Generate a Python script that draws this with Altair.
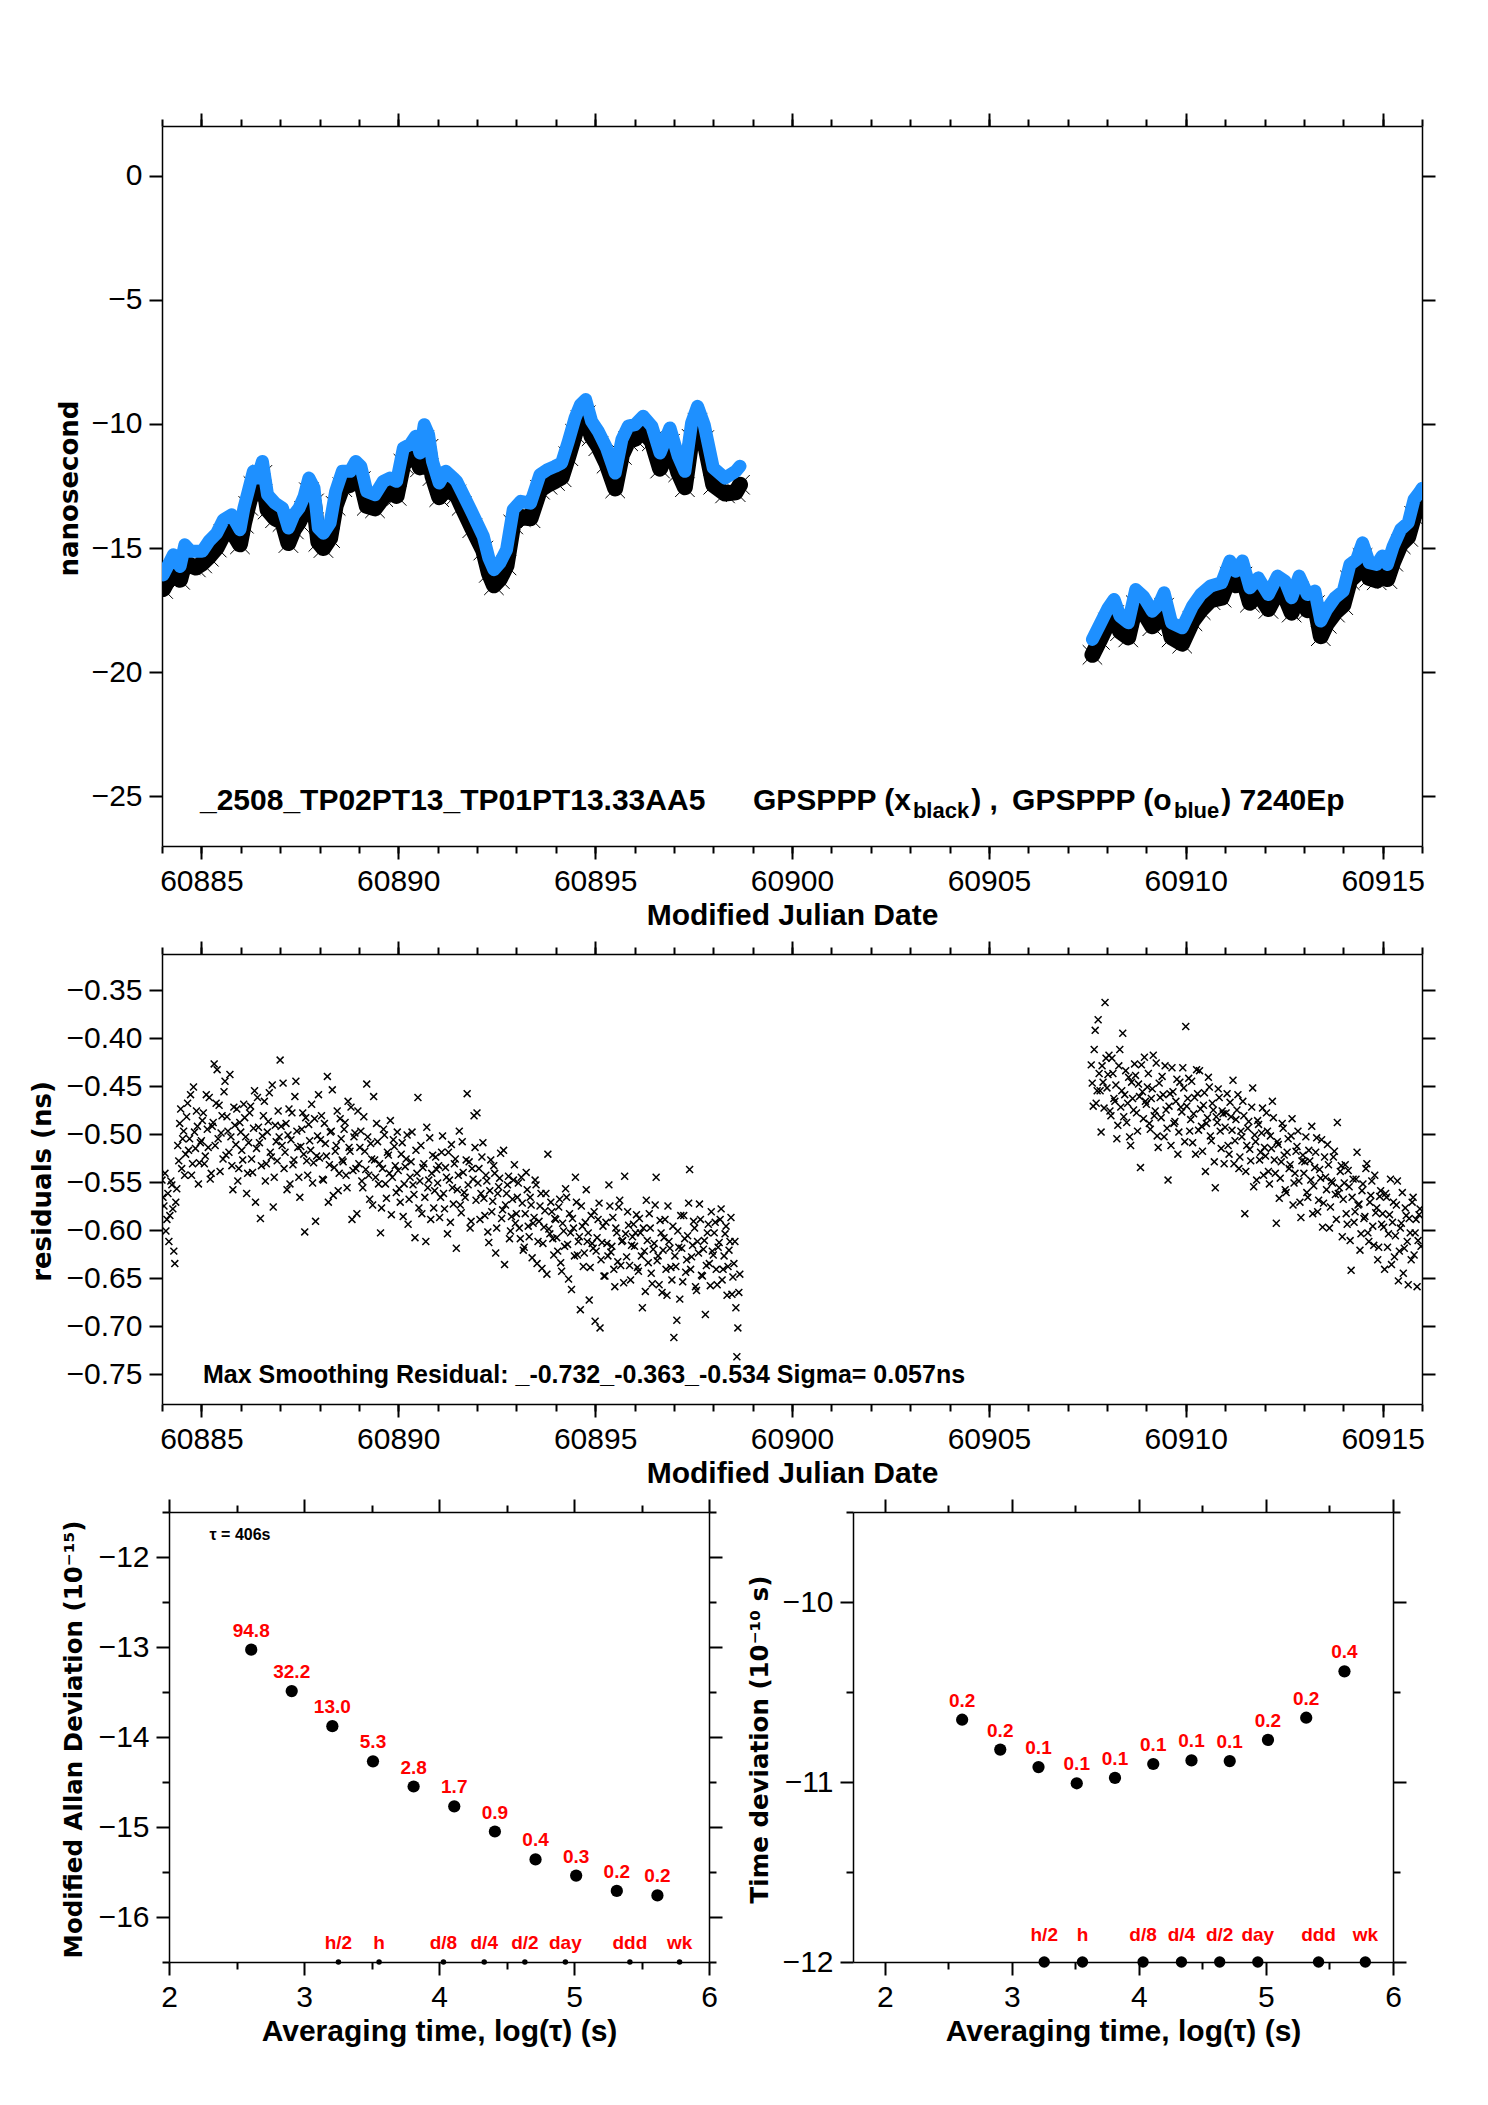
import altair as alt
import numpy as np
import pandas as pd

FONT = "Liberation Sans"
TFONT = "DejaVu Sans"
BLUE = "#1E90FF"
RED = "#FF0000"
XSHAPE = "M-1,-1L1,1M1,-1L-1,1"

# ---------------- top panel: GPSPPP clock differences (ns) ----------------
mjd_a = [60884.03, 60884.29, 60884.46, 60884.58, 60884.73, 60884.86, 60885.02, 60885.19, 60885.39, 60885.56,
         60885.77, 60885.98, 60886.08, 60886.19, 60886.32, 60886.42, 60886.55, 60886.68, 60886.87, 60887.06,
         60887.21, 60887.35, 60887.48, 60887.61, 60887.73, 60887.86, 60887.97, 60888.10, 60888.27, 60888.41,
         60888.58, 60888.78, 60888.92, 60889.05, 60889.20, 60889.41, 60889.62, 60889.79, 60889.96, 60890.13,
         60890.30, 60890.44, 60890.55, 60890.66, 60890.77, 60890.87, 60891.04, 60891.21, 60891.40, 60891.48,
         60891.61, 60891.88, 60892.16, 60892.30, 60892.43, 60892.58, 60892.75, 60892.92, 60893.11, 60893.36,
         60893.60, 60893.79, 60893.98, 60894.15, 60894.32, 60894.49, 60894.63, 60894.76, 60894.91, 60895.08,
         60895.29, 60895.51, 60895.68, 60895.84, 60896.01, 60896.22, 60896.44, 60896.65, 60896.90, 60897.11,
         60897.28, 60897.45, 60897.60, 60897.77, 60898.00, 60898.30, 60898.57, 60898.68]
blue_a = [-16.08, -15.27, -15.74, -14.87, -15.13, -15.13, -15.13, -14.73, -14.40, -13.86,
          -13.66, -14.26, -13.39, -12.72, -11.91, -12.18, -11.51, -12.85, -13.19, -13.39,
          -14.19, -13.66, -13.39, -12.92, -12.18, -12.58, -14.19, -14.40, -13.99, -12.72,
          -11.91, -11.91, -11.51, -11.71, -12.72, -12.85, -12.31, -12.18, -12.31, -10.97,
          -10.83, -10.50, -11.17, -10.03, -10.43, -11.51, -12.38, -11.91, -12.18, -12.31,
          -12.72, -13.59, -14.53, -15.40, -15.87, -15.60, -15.07, -13.45, -13.12, -13.19,
          -12.04, -11.84, -11.71, -11.57, -10.70, -9.76, -9.22, -9.02, -9.89, -10.30,
          -10.97, -11.98, -10.63, -10.09, -10.03, -9.69, -10.09, -11.17, -10.16, -11.30,
          -11.91, -9.96, -9.29, -10.03, -11.77, -12.18, -11.91, -11.70]
black_a = [-16.65, -15.90, -16.28, -15.55, -15.70, -15.78, -15.62, -15.35, -14.98, -14.45,
           -14.30, -14.85, -14.02, -13.30, -12.50, -12.80, -12.05, -13.45, -13.80, -13.95,
           -14.80, -14.25, -13.95, -13.50, -12.75, -13.20, -14.75, -15.00, -14.60, -13.30,
           -12.55, -12.45, -12.10, -12.30, -13.30, -13.40, -12.95, -12.75, -12.90, -11.60,
           -11.40, -11.10, -11.75, -10.65, -11.00, -12.10, -12.95, -12.55, -12.80, -12.85,
           -13.30, -14.20, -15.10, -16.00, -16.50, -16.25, -15.70, -14.05, -13.75, -13.80,
           -12.65, -12.45, -12.30, -12.15, -11.30, -10.40, -9.85, -9.65, -10.50, -10.90,
           -11.60, -12.60, -11.25, -10.70, -10.60, -10.30, -10.70, -11.80, -10.80, -11.95,
           -12.55, -10.60, -9.95, -10.65, -12.45, -12.80, -12.75, -12.45]

mjd_b = [60907.63, 60907.82, 60908.03, 60908.18, 60908.33, 60908.54, 60908.73, 60908.92, 60909.15, 60909.32,
         60909.45, 60909.64, 60909.91, 60910.17, 60910.38, 60910.63, 60910.91, 60911.12, 60911.27, 60911.44,
         60911.63, 60911.84, 60912.10, 60912.33, 60912.52, 60912.69, 60912.88, 60913.09, 60913.28, 60913.43,
         60913.58, 60913.79, 60914.00, 60914.17, 60914.34, 60914.49, 60914.66, 60914.85, 60914.99, 60915.12,
         60915.27, 60915.46, 60915.65, 60915.80, 60915.93, 60916.00]
blue_b = [-18.68, -18.08, -17.41, -17.07, -17.74, -18.01, -16.67, -16.94, -17.54, -17.27,
          -16.80, -18.01, -18.21, -17.34, -16.87, -16.53, -16.40, -15.52, -15.93, -15.52,
          -16.60, -16.20, -16.87, -16.13, -16.33, -17.00, -16.13, -16.87, -16.73, -17.94,
          -17.47, -17.00, -16.73, -15.66, -15.46, -14.79, -15.59, -15.66, -15.32, -15.66,
          -14.92, -14.25, -13.98, -13.04, -12.77, -12.60]
black_b = [-19.30, -18.70, -18.00, -17.70, -18.35, -18.60, -17.30, -17.55, -18.15, -17.90,
           -17.40, -18.60, -18.85, -17.95, -17.50, -17.10, -17.00, -16.15, -16.50, -16.15,
           -17.20, -16.80, -17.45, -16.75, -16.95, -17.60, -16.75, -17.50, -17.30, -18.55,
           -18.05, -17.60, -17.30, -16.30, -16.05, -15.40, -16.20, -16.30, -15.95, -16.25,
           -15.55, -14.85, -14.55, -13.70, -13.40, -13.30]

# annotation of the top panel
ann_x = [60884.965, 60899.01, 60904.55, 60905.59, 60910.90]
ann_text = ["_2508_TP02PT13_TP01PT13.33AA5", "GPSPPP (x", ") ,", "GPSPPP (o", ")  7240Ep"]
sub_x = [60903.07, 60909.70]
sub_text = ["black", "blue"]
ann_y = -25.55

# ---------------- middle panel: residuals (ns), two interleaved sample sets every 0.05 d ----------------
res_start_a = 60884.00
res_a = [
    -0.548, -0.575, -0.601, -0.562, -0.585, -0.553, -0.622, -0.571, -0.512, -0.489, -0.536, -0.497, -0.521, -0.468, -0.505, -0.543, -0.451, -0.515, -0.492, -0.530,
    -0.507, -0.478, -0.523, -0.495, -0.462, -0.541, -0.488, -0.512, -0.433, -0.470, -0.499, -0.526, -0.445, -0.482, -0.519, -0.503, -0.558, -0.491, -0.474, -0.536,
    -0.498, -0.527, -0.483, -0.562, -0.509, -0.471, -0.540, -0.455, -0.515, -0.493, -0.588, -0.502, -0.466, -0.531, -0.487, -0.519, -0.449, -0.545, -0.508, -0.476,
    -0.423, -0.512, -0.536, -0.489, -0.501, -0.552, -0.478, -0.527, -0.445, -0.514, -0.566, -0.495, -0.521, -0.483, -0.543, -0.507, -0.469, -0.530, -0.591, -0.502,
    -0.525, -0.481, -0.548, -0.510, -0.440, -0.532, -0.497, -0.564, -0.518, -0.476, -0.541, -0.505, -0.529, -0.488, -0.556, -0.514, -0.472, -0.538, -0.499, -0.583,
    -0.531, -0.497, -0.556, -0.518, -0.448, -0.543, -0.510, -0.574, -0.527, -0.489, -0.552, -0.603, -0.536, -0.501, -0.567, -0.522, -0.486, -0.545, -0.513, -0.561,
    -0.538, -0.571, -0.509, -0.552, -0.526, -0.594, -0.545, -0.498, -0.563, -0.517, -0.462, -0.549, -0.583, -0.531, -0.612, -0.556, -0.504, -0.541, -0.577, -0.524,
    -0.551, -0.587, -0.519, -0.562, -0.535, -0.604, -0.548, -0.511, -0.573, -0.526, -0.558, -0.497, -0.582, -0.540, -0.566, -0.458, -0.529, -0.591, -0.547, -0.514,
    -0.478, -0.536, -0.562, -0.509, -0.585, -0.549, -0.613, -0.527, -0.570, -0.541, -0.598, -0.555, -0.520, -0.579, -0.636, -0.562, -0.544, -0.601, -0.568, -0.532,
    -0.583, -0.551, -0.609, -0.572, -0.618, -0.540, -0.596, -0.566, -0.629, -0.587, -0.553, -0.612, -0.575, -0.640, -0.597, -0.562, -0.521, -0.604, -0.581, -0.626,
    -0.589, -0.622, -0.568, -0.643, -0.601, -0.557, -0.615, -0.583, -0.662, -0.598, -0.545, -0.626, -0.607, -0.575, -0.638, -0.592, -0.612, -0.673, -0.585, -0.619,
    -0.695, -0.608, -0.572, -0.631, -0.596, -0.648, -0.614, -0.553, -0.623, -0.587, -0.659, -0.603, -0.576, -0.637, -0.611, -0.544, -0.628, -0.595, -0.652, -0.607,
    -0.617, -0.584, -0.643, -0.603, -0.681, -0.622, -0.569, -0.634, -0.598, -0.656, -0.614, -0.545, -0.627, -0.590, -0.665, -0.608, -0.641, -0.575, -0.619, -0.652,
    -0.712, -0.638, -0.601, -0.672, -0.619, -0.585, -0.644, -0.606, -0.537, -0.628, -0.591, -0.659, -0.612, -0.573, -0.647, -0.620, -0.688, -0.603, -0.635, -0.581,
    -0.626, -0.592, -0.657, -0.613, -0.578, -0.641, -0.604, -0.668, -0.621, -0.587, -0.649, -0.612, -0.732, -0.665,
]
res_start_a2 = 60884.025
res_a2 = [
    -0.566, -0.541, -0.589, -0.612, -0.549, -0.578, -0.635, -0.557, -0.528, -0.474, -0.505, -0.543, -0.482, -0.517, -0.459, -0.531, -0.498, -0.476, -0.552, -0.509,
    -0.486, -0.531, -0.459, -0.514, -0.547, -0.492, -0.427, -0.468, -0.505, -0.539, -0.481, -0.456, -0.522, -0.497, -0.438, -0.533, -0.472, -0.511, -0.549, -0.488,
    -0.517, -0.469, -0.503, -0.541, -0.478, -0.526, -0.494, -0.571, -0.462, -0.509, -0.533, -0.481, -0.549, -0.498, -0.457, -0.524, -0.576, -0.491, -0.528, -0.503,
    -0.492, -0.447, -0.519, -0.558, -0.474, -0.506, -0.532, -0.461, -0.497, -0.545, -0.513, -0.478, -0.602, -0.528, -0.490, -0.517, -0.551, -0.484, -0.523, -0.459,
    -0.506, -0.547, -0.489, -0.523, -0.571, -0.498, -0.454, -0.535, -0.512, -0.559, -0.484, -0.527, -0.495, -0.543, -0.466, -0.518, -0.589, -0.503, -0.536, -0.476,
    -0.514, -0.549, -0.482, -0.537, -0.503, -0.568, -0.526, -0.461, -0.545, -0.508, -0.531, -0.577, -0.495, -0.552, -0.519, -0.541, -0.584, -0.506, -0.533, -0.498,
    -0.557, -0.521, -0.586, -0.534, -0.501, -0.568, -0.529, -0.553, -0.608, -0.541, -0.577, -0.512, -0.535, -0.566, -0.493, -0.548, -0.589, -0.522, -0.559, -0.537,
    -0.533, -0.566, -0.502, -0.578, -0.545, -0.519, -0.592, -0.556, -0.531, -0.619, -0.543, -0.574, -0.508, -0.561, -0.527, -0.553, -0.598, -0.536, -0.481, -0.569,
    -0.551, -0.589, -0.524, -0.567, -0.543, -0.602, -0.559, -0.581, -0.533, -0.624, -0.562, -0.546, -0.588, -0.517, -0.574, -0.553, -0.609, -0.586, -0.548, -0.593,
    -0.566, -0.598, -0.545, -0.621, -0.583, -0.558, -0.607, -0.574, -0.593, -0.548, -0.635, -0.591, -0.562, -0.614, -0.580, -0.646, -0.599, -0.571, -0.609, -0.588,
    -0.608, -0.576, -0.634, -0.593, -0.617, -0.566, -0.651, -0.603, -0.588, -0.627, -0.571, -0.612, -0.683, -0.596, -0.624, -0.558, -0.603, -0.639, -0.614, -0.581,
    -0.622, -0.589, -0.702, -0.613, -0.648, -0.592, -0.627, -0.575, -0.617, -0.641, -0.598, -0.633, -0.569, -0.612, -0.655, -0.604, -0.581, -0.637, -0.616, -0.594,
    -0.603, -0.639, -0.588, -0.627, -0.598, -0.664, -0.611, -0.583, -0.645, -0.620, -0.574, -0.632, -0.657, -0.603, -0.621, -0.589, -0.668, -0.612, -0.639, -0.596,
    -0.627, -0.694, -0.618, -0.585, -0.654, -0.609, -0.631, -0.572, -0.641, -0.616, -0.598, -0.663, -0.624, -0.589, -0.648, -0.611, -0.637, -0.594, -0.658, -0.622,
    -0.603, -0.641, -0.618, -0.589, -0.652, -0.627, -0.596, -0.638, -0.612, -0.667, -0.635, -0.681, -0.702, -0.646,
]
res_start_b = 60907.60
res_b = [
    -0.428, -0.471, -0.392, -0.455, -0.437, -0.498, -0.446, -0.363,
    -0.452, -0.418, -0.481, -0.437, -0.466, -0.505, -0.429, -0.472, -0.395, -0.459, -0.488, -0.441, -0.512, -0.463, -0.427, -0.478, -0.448, -0.535, -0.456, -0.420,
    -0.469, -0.437, -0.495, -0.453, -0.481, -0.426, -0.514, -0.462, -0.440, -0.503, -0.475, -0.548, -0.458, -0.431, -0.489, -0.466, -0.521, -0.446, -0.477, -0.452,
    -0.388, -0.463, -0.497, -0.445, -0.479, -0.521, -0.458, -0.434, -0.492, -0.470, -0.539, -0.483, -0.451, -0.507, -0.475, -0.556, -0.488, -0.462, -0.515, -0.479,
    -0.493, -0.458, -0.521, -0.482, -0.444, -0.507, -0.475, -0.536, -0.497, -0.466, -0.583, -0.512, -0.487, -0.528, -0.452, -0.501, -0.548, -0.490, -0.519, -0.473,
    -0.514, -0.478, -0.539, -0.502, -0.466, -0.527, -0.593, -0.511, -0.546, -0.489, -0.522, -0.561, -0.505, -0.532, -0.484, -0.551, -0.518, -0.497, -0.571, -0.528,
    -0.541, -0.503, -0.566, -0.528, -0.492, -0.554, -0.519, -0.581, -0.537, -0.506, -0.572, -0.545, -0.511, -0.598, -0.549, -0.524, -0.563, -0.488, -0.556, -0.533,
    -0.568, -0.532, -0.594, -0.555, -0.642, -0.547, -0.581, -0.519, -0.573, -0.604, -0.552, -0.586, -0.531, -0.612, -0.564, -0.596, -0.543, -0.577, -0.618, -0.559,
    -0.583, -0.641, -0.566, -0.604, -0.547, -0.592, -0.628, -0.574, -0.653, -0.598, -0.561, -0.619, -0.585, -0.657, -0.603, -0.571, -0.626, -0.589, -0.611, -0.578,
]
res_start_b2 = 60907.625
res_b2 = [
    -0.447, -0.412, -0.468, -0.381, -0.455, -0.429, -0.473, -0.421,
    -0.438, -0.476, -0.421, -0.463, -0.449, -0.491, -0.412, -0.455, -0.482, -0.434, -0.468, -0.503, -0.446, -0.475, -0.439, -0.497, -0.461, -0.428, -0.484, -0.466,
    -0.451, -0.489, -0.463, -0.418, -0.476, -0.502, -0.447, -0.483, -0.459, -0.429, -0.494, -0.471, -0.512, -0.456, -0.487, -0.443, -0.498, -0.472, -0.431, -0.508,
    -0.471, -0.442, -0.485, -0.509, -0.462, -0.433, -0.496, -0.474, -0.518, -0.457, -0.489, -0.441, -0.502, -0.468, -0.529, -0.482, -0.453, -0.497, -0.476, -0.531,
    -0.478, -0.512, -0.467, -0.496, -0.531, -0.485, -0.459, -0.524, -0.503, -0.481, -0.539, -0.494, -0.516, -0.472, -0.555, -0.508, -0.486, -0.527, -0.499, -0.543,
    -0.523, -0.497, -0.552, -0.515, -0.483, -0.541, -0.508, -0.567, -0.529, -0.494, -0.558, -0.519, -0.536, -0.502, -0.574, -0.541, -0.513, -0.549, -0.587, -0.522,
    -0.529, -0.561, -0.517, -0.548, -0.583, -0.535, -0.504, -0.569, -0.546, -0.597, -0.524, -0.558, -0.532, -0.576, -0.551, -0.518, -0.589, -0.562, -0.539, -0.607,
    -0.551, -0.583, -0.538, -0.611, -0.566, -0.592, -0.547, -0.574, -0.621, -0.559, -0.588, -0.536, -0.603, -0.571, -0.549, -0.616, -0.582, -0.631, -0.565, -0.594,
    -0.597, -0.562, -0.618, -0.584, -0.636, -0.571, -0.606, -0.549, -0.622, -0.593, -0.645, -0.577, -0.612, -0.588, -0.631, -0.566, -0.603, -0.659, -0.584, -0.617,
]
res_step = 0.05
res_note = "Max Smoothing Residual: _-0.732_-0.363_-0.534  Sigma= 0.057ns"
res_note_x = 60885.04
res_note_y = -0.759

# ---------------- bottom panels: stability ----------------
log_tau = [2.609, 2.909, 3.210, 3.511, 3.812, 4.113, 4.414, 4.715, 5.016, 5.317, 5.618]
mdev = [-13.03, -13.49, -13.88, -14.27, -14.55, -14.77, -15.05, -15.36, -15.54, -15.71, -15.76]
mdev_lab = ["94.8", "32.2", "13.0", "5.3", "2.8", "1.7", "0.9", "0.4", "0.3", "0.2", "0.2"]
tdev = [-10.654, -10.820, -10.917, -11.007, -10.977, -10.900, -10.880, -10.884, -10.766, -10.643, -10.385]
tdev_lab = ["0.2", "0.2", "0.1", "0.1", "0.1", "0.1", "0.1", "0.1", "0.2", "0.2", "0.4"]
mark_x = [3.255, 3.556, 4.033, 4.335, 4.636, 4.936, 5.414, 5.782]
mark_lab = ["h/2", "h", "d/8", "d/4", "d/2", "day", "ddd", "wk"]
tau_note = "\u03c4 = 406s"


def axis_common():
    return dict(grid=False, tickColor="black", domainColor="black", tickWidth=2,
                domainWidth=1.5, labelColor="black", titleColor="black",
                labelFlush=False, labelOverlap=False)


def frame(xdom, ydom, xmaj, xmin, ymaj, ymin, xfmt, yfmt, xtitle, ytitle, ytx, h, ytsize=26):
    d = pd.DataFrame({"x": [xdom[0]], "y": [ydom[0]]})
    xs = alt.Scale(domain=xdom, zero=False, nice=False)
    ys = alt.Scale(domain=ydom, zero=False, nice=False)
    c = axis_common()
    lab = dict(labelFont=FONT, labelFontSize=30, labelPadding=7, tickSize=13)
    ax_b = alt.Axis(orient="bottom", values=xmaj, format=xfmt, title=xtitle, titleFont=FONT,
                    titleFontSize=30, titleFontWeight="bold", titlePadding=4, **lab, **c)
    ax_l = alt.Axis(orient="left", values=ymaj, format=yfmt, title=ytitle, titleFont=TFONT,
                    titleFontSize=ytsize, titleFontWeight="bold", titleX=ytx, titleY=h / 2 + 2,
                    titleAngle=270, titleAlign="center", titleBaseline="middle", **lab, **c)
    ax_t = alt.Axis(orient="top", values=xmaj, labels=False, title=None, tickSize=13, **c)
    ax_r = alt.Axis(orient="right", values=ymaj, labels=False, title=None, tickSize=13, **c)
    layers = [
        alt.Chart(d).mark_point(opacity=0).encode(
            x=alt.X("x:Q", scale=xs, axis=ax_b), y=alt.Y("y:Q", scale=ys, axis=ax_l)),
        alt.Chart(d).mark_point(opacity=0).encode(
            x=alt.X("x:Q", scale=xs, axis=ax_t), y=alt.Y("y:Q", scale=ys, axis=ax_r)),
    ]
    for xo, yo in (("bottom", "left"), ("top", "right")):
        ax_x = alt.Axis(orient=xo, values=xmin, labels=False, domain=False, title=None, tickSize=7, **c)
        if ymin:
            ax_y = alt.Axis(orient=yo, values=ymin, labels=False, domain=False, title=None, tickSize=7, **c)
        else:
            ax_y = None
        layers.append(alt.Chart(d).mark_point(opacity=0).encode(
            x=alt.X("x:Q", scale=xs, axis=ax_x), y=alt.Y("y:Q", scale=ys, axis=ax_y)))
    return layers, xs, ys


MJD_MAJ = [60885, 60890, 60895, 60900, 60905, 60910, 60915]
MJD_MIN = list(range(60884, 60917))

# ---------- top panel ----------
W_TOP, H_TOP = 1260, 720
top_layers, xs_t, ys_t = frame([60884, 60916], [-27, 2], MJD_MAJ, MJD_MIN,
                               [0, -5, -10, -15, -20, -25], [], "d", "d",
                               "Modified Julian Date", "nanosecond", -93, H_TOP)
top_df = pd.DataFrame({
    "mjd": mjd_a + mjd_b,
    "blue": blue_a + blue_b,
    "black": black_a + black_b,
    "seg": ["a"] * len(mjd_a) + ["b"] * len(mjd_b),
})
black_line = alt.Chart(top_df).mark_line(color="black", strokeWidth=16, strokeJoin="round",
                                         strokeCap="round", clip=True).encode(
    x=alt.X("mjd:Q", scale=xs_t, axis=None), y=alt.Y("black:Q", scale=ys_t, axis=None), detail="seg:N")
black_x = alt.Chart(top_df).mark_point(shape=XSHAPE, filled=False, color="black", strokeWidth=1,
                                       size=380, opacity=1, clip=True).encode(
    x=alt.X("mjd:Q", scale=xs_t, axis=None), y=alt.Y("black:Q", scale=ys_t, axis=None))
blue_line = alt.Chart(top_df).mark_line(color=BLUE, strokeWidth=13, strokeJoin="round",
                                        strokeCap="round", clip=True).encode(
    x=alt.X("mjd:Q", scale=xs_t, axis=None), y=alt.Y("blue:Q", scale=ys_t, axis=None), detail="seg:N")
ann_df = pd.DataFrame({"x": ann_x, "y": [ann_y] * len(ann_x), "t": ann_text})
sub_df = pd.DataFrame({"x": sub_x, "y": [ann_y] * len(sub_x), "t": sub_text})
ann = alt.Chart(ann_df).mark_text(font=FONT, fontSize=30, fontWeight="bold", align="left",
                                  baseline="alphabetic", color="black").encode(
    x=alt.X("x:Q", scale=xs_t, axis=None), y=alt.Y("y:Q", scale=ys_t, axis=None), text="t:N")
sub = alt.Chart(sub_df).mark_text(font=FONT, fontSize=22, fontWeight="bold", align="left",
                                  baseline="alphabetic", dy=8, color="black").encode(
    x=alt.X("x:Q", scale=xs_t, axis=None), y=alt.Y("y:Q", scale=ys_t, axis=None), text="t:N")
top = alt.layer(*top_layers, black_x, black_line, blue_line, ann, sub).resolve_axis(
    x="independent", y="independent").properties(width=W_TOP, height=H_TOP)

# ---------- middle panel ----------
H_MID = 450
mid_layers, xs_m, ys_m = frame([60884, 60916], [-0.78125, -0.3125], MJD_MAJ, MJD_MIN,
                               [-0.35, -0.40, -0.45, -0.50, -0.55, -0.60, -0.65, -0.70, -0.75], [],
                               "d", ".2f", "Modified Julian Date", "residuals (ns)", -120, H_MID)
t_a = np.round(res_start_a + res_step * np.arange(len(res_a)), 3)
t_a2 = np.round(res_start_a2 + res_step * np.arange(len(res_a2)), 3)
t_b = np.round(res_start_b + res_step * np.arange(len(res_b)), 3)
t_b2 = np.round(res_start_b2 + res_step * np.arange(len(res_b2)), 3)
res_df = pd.DataFrame({"mjd": np.concatenate([t_a, t_a2, t_b, t_b2]),
                       "res": res_a + res_a2 + res_b + res_b2})
res_pts = alt.Chart(res_df).mark_point(shape=XSHAPE, filled=False, color="black", strokeWidth=1.5,
                                       size=48, opacity=1, clip=True).encode(
    x=alt.X("mjd:Q", scale=xs_m, axis=None), y=alt.Y("res:Q", scale=ys_m, axis=None))
note_df = pd.DataFrame({"x": [res_note_x], "y": [res_note_y], "t": [res_note]})
note = alt.Chart(note_df).mark_text(font=FONT, fontSize=25, fontWeight="bold", align="left",
                                    baseline="alphabetic", color="black").encode(
    x=alt.X("x:Q", scale=xs_m, axis=None), y=alt.Y("y:Q", scale=ys_m, axis=None), text="t:N")
mid = alt.layer(*mid_layers, res_pts, note).resolve_axis(
    x="independent", y="independent").properties(width=W_TOP, height=H_MID)

# ---------- bottom left: modified Allan deviation ----------
H_BOT = 450
bl_layers, xs_l, ys_l = frame([2, 6], [-16.5, -11.5], [2, 3, 4, 5, 6], [2.5, 3.5, 4.5, 5.5],
                              [-12, -13, -14, -15, -16], [-11.5, -12.5, -13.5, -14.5, -15.5, -16.5],
                              "d", "d", "Averaging time, log(\u03c4) (s)",
                              "Modified Allan Deviation (10\u207b\u00b9\u2075)", -95, H_BOT, 24.5)
md_df = pd.DataFrame({"x": log_tau, "y": mdev, "t": mdev_lab})
mk_l_df = pd.DataFrame({"x": mark_x, "y": [-16.5] * len(mark_x), "t": mark_lab})
bl_pts = alt.Chart(md_df).mark_circle(size=150, color="black", opacity=1).encode(
    x=alt.X("x:Q", scale=xs_l, axis=None), y=alt.Y("y:Q", scale=ys_l, axis=None))
bl_txt = alt.Chart(md_df).mark_text(font=FONT, fontSize=19, fontWeight="bold", color=RED,
                                    baseline="bottom", dy=-9).encode(
    x=alt.X("x:Q", scale=xs_l, axis=None), y=alt.Y("y:Q", scale=ys_l, axis=None), text="t:N")
bl_mk = alt.Chart(mk_l_df).mark_circle(size=30, color="black", opacity=1).encode(
    x=alt.X("x:Q", scale=xs_l, axis=None), y=alt.Y("y:Q", scale=ys_l, axis=None))
bl_mk_txt = alt.Chart(mk_l_df).mark_text(font=FONT, fontSize=19, fontWeight="bold", color=RED,
                                         baseline="bottom", dy=-9).encode(
    x=alt.X("x:Q", scale=xs_l, axis=None), y=alt.Y("y:Q", scale=ys_l, axis=None), text="t:N")
tau_df = pd.DataFrame({"x": [2.30], "y": [-11.81], "t": [tau_note]})
bl_tau = alt.Chart(tau_df).mark_text(font=FONT, fontSize=16, fontWeight="bold", color="black",
                                     align="left", baseline="alphabetic").encode(
    x=alt.X("x:Q", scale=xs_l, axis=None), y=alt.Y("y:Q", scale=ys_l, axis=None), text="t:N")
bl = alt.layer(*bl_layers, bl_pts, bl_txt, bl_mk, bl_mk_txt, bl_tau).resolve_axis(
    x="independent", y="independent").properties(width=540, height=H_BOT)

# ---------- bottom right: time deviation ----------
br_layers, xs_r, ys_r = frame([1.75, 6], [-12, -9.5], [2, 3, 4, 5, 6], [2.5, 3.5, 4.5, 5.5],
                              [-10, -11, -12], [-9.5, -10.5, -11.5],
                              "d", "d", "Averaging time, log(\u03c4) (s)",
                              "Time deviation (10\u207b\u00b9\u2070 s)", -93, H_BOT, 24.5)
td_df = pd.DataFrame({"x": log_tau, "y": tdev, "t": tdev_lab})
mk_r_df = pd.DataFrame({"x": mark_x, "y": [-12.0] * len(mark_x), "t": mark_lab})
br_pts = alt.Chart(td_df).mark_circle(size=150, color="black", opacity=1).encode(
    x=alt.X("x:Q", scale=xs_r, axis=None), y=alt.Y("y:Q", scale=ys_r, axis=None))
br_txt = alt.Chart(td_df).mark_text(font=FONT, fontSize=19, fontWeight="bold", color=RED,
                                    baseline="bottom", dy=-9).encode(
    x=alt.X("x:Q", scale=xs_r, axis=None), y=alt.Y("y:Q", scale=ys_r, axis=None), text="t:N")
br_mk = alt.Chart(mk_r_df).mark_circle(size=130, color="black", opacity=1).encode(
    x=alt.X("x:Q", scale=xs_r, axis=None), y=alt.Y("y:Q", scale=ys_r, axis=None))
br_mk_txt = alt.Chart(mk_r_df).mark_text(font=FONT, fontSize=19, fontWeight="bold", color=RED,
                                         baseline="bottom", dy=-17).encode(
    x=alt.X("x:Q", scale=xs_r, axis=None), y=alt.Y("y:Q", scale=ys_r, axis=None), text="t:N")
br = alt.layer(*br_layers, br_pts, br_txt, br_mk, br_mk_txt).resolve_axis(
    x="independent", y="independent").properties(width=540, height=H_BOT)

# a narrow empty spacer shifts the lower pair a few pixels to the right
spacer = alt.Chart(pd.DataFrame({"x": [0], "y": [0]})).mark_point(opacity=0).encode(
    x=alt.X("x:Q", axis=None), y=alt.Y("y:Q", axis=None)).properties(width=7, height=H_BOT)
pair = alt.hconcat(bl, br, spacing=144, bounds="flush")
bottom = alt.hconcat(spacer, pair, spacing=0, bounds="flush")

chart = alt.vconcat(top, mid, bottom, spacing=108, bounds="flush").properties(
    padding={"left": 21, "top": 104, "right": 10, "bottom": 10},
    background="white",
).configure_view(strokeWidth=0)

chart.save("out.html", embed_options={"renderer": "svg", "actions": False})
